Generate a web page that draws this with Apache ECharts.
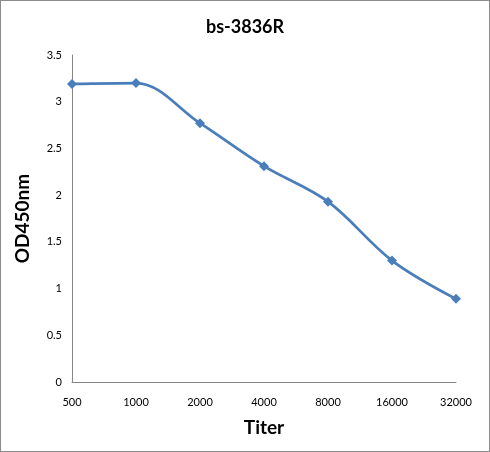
<!DOCTYPE html>
<html>
<head>
<meta charset="utf-8">
<script src="https://cdn.jsdelivr.net/npm/echarts@6/dist/echarts.min.js"></script>
<style>
html,body{margin:0;padding:0;background:#fff;}
#wrap{position:absolute;left:0;top:0;width:488px;height:450px;border:1px solid #8c8c8c;}
#chart{width:488px;height:450px;}
</style>
</head>
<body>
<div id="wrap"><div id="chart"></div></div>
<script>
const titleText = "bs-3836R";
const categories = ["500", "1000", "2000", "4000", "8000", "16000", "32000"];
const odValues = [3.19, 3.20, 2.77, 2.31, 1.93, 1.30, 0.89];
const yTicks = [0, 0.5, 1, 1.5, 2, 2.5, 3, 3.5];

const chart = echarts.init(document.getElementById('chart'));
const fontFam = 'Lato, "Open Sans", sans-serif';
chart.setOption({
  animation: false,
  title: {
    text: titleText, left: 'center', top: 12,
    textStyle: {fontFamily: fontFam, fontSize: 18, fontWeight: 'bold', color: '#000'}
  },
  grid: {left: 71, right: 33, top: 54, bottom: 69},
  xAxis: {
    type: 'category', data: categories, boundaryGap: false,
    name: 'Titer', nameLocation: 'middle', nameGap: 36,
    nameTextStyle: {fontFamily: fontFam, fontSize: 19, fontWeight: 'bold', color: '#000'},
    axisLine: {lineStyle: {color: '#868686', width: 1}},
    axisTick: {show: false},
    axisLabel: {margin: 15, fontFamily: fontFam, fontSize: 11, color: '#000'},
    splitLine: {show: false}
  },
  yAxis: {
    type: 'value', min: yTicks[0], max: yTicks[yTicks.length-1], interval: 0.5,
    name: 'OD450nm', nameLocation: 'middle', nameGap: 40, nameRotate: 90,
    nameTextStyle: {fontFamily: fontFam, fontSize: 19, fontWeight: 'bold', color: '#000'},
    axisLine: {show: true, lineStyle: {color: '#868686', width: 1}},
    axisTick: {show: false},
    axisLabel: {margin: 10, fontFamily: fontFam, fontSize: 11, color: '#000'},
    splitLine: {show: false}
  },
  series: [{
    type: 'line', data: odValues, smooth: 0.35,
    symbol: 'diamond', symbolSize: 10,
    lineStyle: {color: '#4a7ebb', width: 2.75},
    itemStyle: {color: '#4a7ebb'}
  }]
});
</script>
</body>
</html>
